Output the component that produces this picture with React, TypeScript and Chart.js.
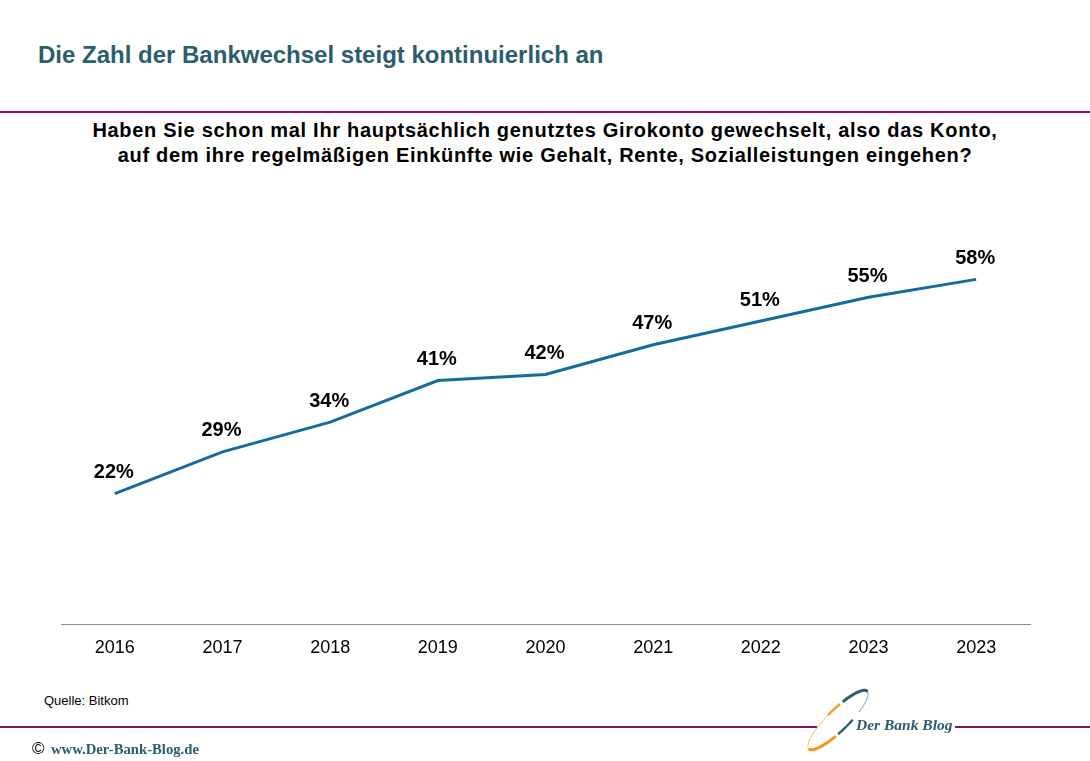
import React, { useEffect, useRef } from "react";
import { Chart, registerables } from "chart.js";

Chart.register(...registerables);

const years = ["2016", "2017", "2018", "2019", "2020", "2021", "2022", "2023", "2023"];
const shares = [22, 29, 34, 41, 42, 47, 51, 55, 58];

const titleText = "Die Zahl der Bankwechsel steigt kontinuierlich an";
const questionLines = [
  "Haben Sie schon mal Ihr hauptsächlich genutztes Girokonto gewechselt, also das Konto,",
  "auf dem ihre regelmäßigen Einkünfte wie Gehalt, Rente, Sozialleistungen eingehen?",
];
const sourceText = "Quelle: Bitkom";

const FONT = '"Liberation Sans", Arial, Helvetica, sans-serif';
const TEAL = "#2c5d6c";
const LINE = "#156c9c";

const valueLabels = {
  id: "valueLabels",
  afterDatasetsDraw(chart: any) {
    const ctx = chart.ctx;
    const meta = chart.getDatasetMeta(0);
    ctx.save();
    ctx.font = `bold 20px ${FONT}`;
    ctx.fillStyle = "#000";
    ctx.textAlign = "center";
    ctx.textBaseline = "middle";
    meta.data.forEach((pt: any, i: number) => {
      ctx.fillText(`${shares[i]}%`, pt.x - 1, pt.y - 21);
    });
    ctx.restore();
  },
};

function ChartCanvas() {
  const ref = useRef<HTMLCanvasElement>(null);
  useEffect(() => {
    if (!ref.current) return;
    const chart = new Chart(ref.current, {
      type: "line",
      data: {
        labels: years,
        datasets: [
          {
            data: shares,
            borderColor: LINE,
            borderWidth: 3,
            pointRadius: 0,
            tension: 0,
            fill: false,
          },
        ],
      },
      options: {
        animation: false,
        responsive: false,
        maintainAspectRatio: false,
        layout: { padding: { left: 61, right: 60, top: 208, bottom: 8 } },
        plugins: { legend: { display: false }, tooltip: { enabled: false } },
        scales: {
          x: {
            offset: true,
            grid: { display: false, drawTicks: false },
            border: { display: true, color: "#8c8c8c", width: 1 },
            ticks: { color: "#000", font: { family: FONT, size: 18 }, padding: 13 },
          },
          y: { display: false, min: 0, max: 70 },
        },
      },
      plugins: [valueLabels],
    });
    return () => chart.destroy();
  }, []);
  return (
    <canvas
      ref={ref}
      width={1090}
      height={680}
      style={{ position: "absolute", left: 0, top: 0, width: 1090, height: 680 }}
    />
  );
}

// logo swoosh: tilted ellipse sampled as polylines
const CX = 838;
const CY = 720;
const RX = 41;
const RY = 10.5;
const ANG = (-44.5 * Math.PI) / 180;
function arc(t0: number, t1: number): string {
  const pts: string[] = [];
  const n = 30;
  for (let i = 0; i <= n; i++) {
    const t = ((t0 + ((t1 - t0) * i) / n) * Math.PI) / 180;
    const lx = RX * Math.cos(t);
    const ly = -RY * Math.sin(t);
    const x = CX + lx * Math.cos(ANG) - ly * Math.sin(ANG);
    const y = CY + lx * Math.sin(ANG) + ly * Math.cos(ANG);
    pts.push(`${i === 0 ? "M" : "L"} ${x.toFixed(2)} ${y.toFixed(2)}`);
  }
  return pts.join(" ");
}

export default function App() {
  return (
    <div
      style={{
        position: "absolute",
        left: 0,
        top: 0,
        width: 1090,
        height: 761,
        background: "#fff",
        overflow: "hidden",
        fontFamily: FONT,
      }}
    >
      <div
        style={{
          position: "absolute",
          left: 38,
          top: 42,
          fontSize: 24,
          lineHeight: "26px",
          fontWeight: "bold",
          color: TEAL,
          whiteSpace: "nowrap",
        }}
      >
        {titleText}
      </div>
      <div style={{ position: "absolute", left: 0, top: 111, width: 1090, height: 2, background: "#9e0d6d" }} />
      <div
        style={{
          position: "absolute",
          left: 0,
          top: 118,
          width: 1090,
          textAlign: "center",
          fontSize: 20,
          lineHeight: "25px",
          fontWeight: "bold",
          color: "#000",
          letterSpacing: 0.7,
          whiteSpace: "nowrap",
        }}
      >
        {questionLines.map((l, i) => (
          <div key={i}>{l}</div>
        ))}
      </div>
      <ChartCanvas />
      <div style={{ position: "absolute", left: 44, top: 693, fontSize: 13, lineHeight: "16px", color: "#000" }}>
        {sourceText}
      </div>
      <div style={{ position: "absolute", left: 0, top: 726, width: 817, height: 2, background: "#7b1462" }} />
      <div style={{ position: "absolute", left: 955, top: 726, width: 135, height: 2, background: "#7b1462" }} />
      <svg width={1090} height={761} style={{ position: "absolute", left: 0, top: 0 }}>
        <path d={arc(4, 65)} fill="none" stroke={TEAL} strokeWidth={3} strokeLinecap="round" />
        <path d={arc(300, 360)} fill="none" stroke="#6f8f98" strokeWidth={1} />
        <path d={arc(72, 95)} fill="none" stroke="#f39a1e" strokeWidth={2.4} />
        <path d={arc(95, 170)} fill="none" stroke="#f6b455" strokeWidth={1} />
        <path d={arc(185, 250)} fill="none" stroke="#f39a1e" strokeWidth={3} strokeLinecap="round" />
        <path d={arc(256, 285)} fill="none" stroke={TEAL} strokeWidth={2.4} />
      </svg>
      <div
        style={{
          position: "absolute",
          left: 856,
          top: 716,
          fontFamily: '"Liberation Serif", "DejaVu Serif", serif',
          fontStyle: "italic",
          fontWeight: "bold",
          fontSize: 15.5,
          lineHeight: "18px",
          color: TEAL,
          whiteSpace: "nowrap",
        }}
      >
        Der Bank Blog
      </div>
      <div style={{ position: "absolute", left: 32, top: 739, fontSize: 17, lineHeight: "20px", color: "#000" }}>©</div>
      <div
        style={{
          position: "absolute",
          left: 51,
          top: 740,
          fontFamily: '"Liberation Serif", "DejaVu Serif", serif',
          fontWeight: "bold",
          fontSize: 14.7,
          lineHeight: "18px",
          color: TEAL,
          whiteSpace: "nowrap",
        }}
      >
        www.Der-Bank-Blog.de
      </div>
    </div>
  );
}
